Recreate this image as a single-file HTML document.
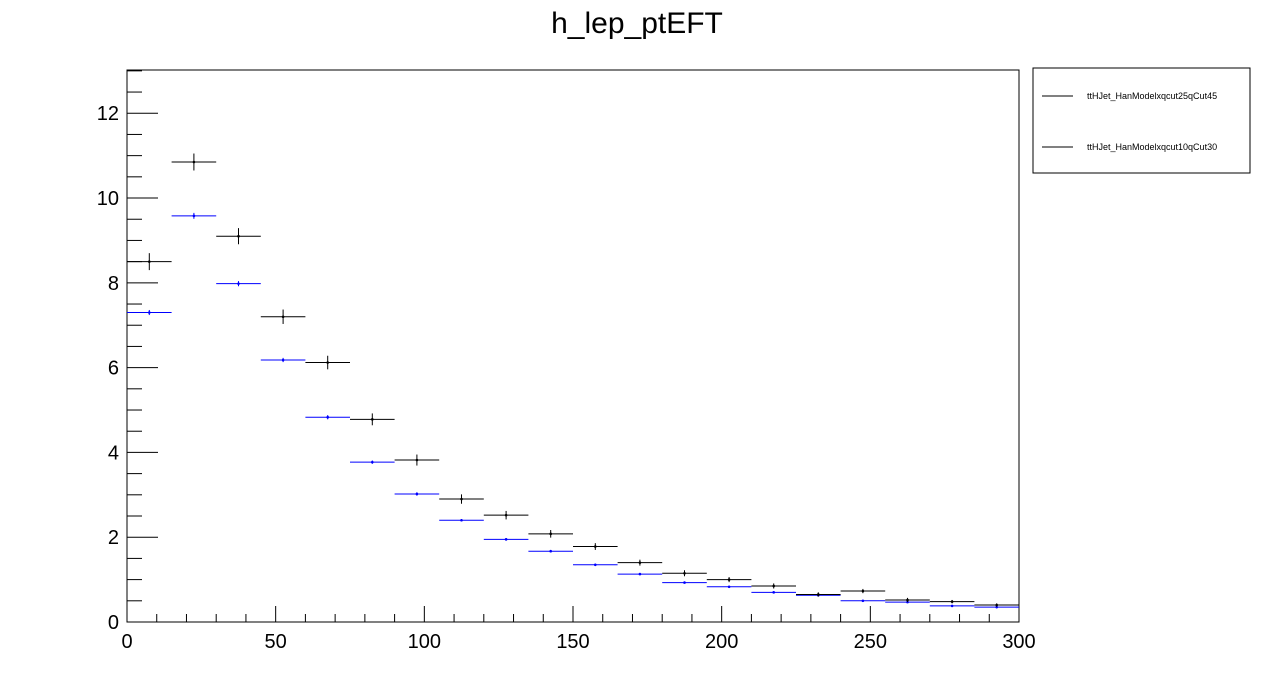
<!DOCTYPE html>
<html><head><meta charset="utf-8"><style>
body{margin:0;background:#fff;font-family:"Liberation Sans",sans-serif}
</style></head><body>
<svg id="chart" width="1276" height="692" xmlns="http://www.w3.org/2000/svg" font-family="Liberation Sans, sans-serif">
<rect width="1276" height="692" fill="#fff"/>
<text x="637" y="33" font-size="30" text-anchor="middle">h_lep_ptEFT</text>
<rect x="127" y="70" width="892" height="552" fill="none" stroke="#000" stroke-width="1"/>
<g id="axes"></g>
<g id="marks"></g>
<g>
<rect x="1033" y="68" width="217" height="105" fill="#fff" stroke="#000"/>
<line x1="1042" y1="96" x2="1073" y2="96" stroke="#000"/>
<text x="1087" y="99" font-size="9">ttHJet_HanModelxqcut25qCut45</text>
<line x1="1042" y1="147" x2="1073" y2="147" stroke="#000"/>
<text x="1087" y="150" font-size="9">ttHJet_HanModelxqcut10qCut30</text>
</g>
</svg>
<script>
const binEdges=[0,15,30,45,60,75,90,105,120,135,150,165,180,195,210,225,240,255,270,285,300];
const blackValues=[8.5,10.85,9.1,7.2,6.12,4.78,3.82,2.9,2.52,2.08,1.78,1.4,1.15,1.0,0.85,0.65,0.73,0.52,0.48,0.4];
const blackErrors=[0.2,0.2,0.19,0.17,0.16,0.14,0.13,0.11,0.1,0.09,0.08,0.07,0.07,0.06,0.06,0.05,0.05,0.05,0.04,0.04];
const blueValues=[7.3,9.58,7.98,6.18,4.83,3.77,3.02,2.4,1.95,1.67,1.35,1.13,0.93,0.83,0.7,0.63,0.5,0.47,0.38,0.35];
const blueErrors=[0.06,0.07,0.06,0.05,0.05,0.04,0.04,0.03,0.03,0.03,0.03,0.02,0.02,0.02,0.02,0.02,0.02,0.02,0.02,0.02];
const xTickLabels=[0,50,100,150,200,250,300];
const yTickLabels=[0,2,4,6,8,10,12];
const X0=127,X1=1019,Y0=622,Y1=70,XMAX=300,YMAX=13.02;
const xs=v=>X0+(X1-X0)*v/XMAX, ys=v=>Y0-(Y0-Y1)*v/YMAX;
const NS="http://www.w3.org/2000/svg";
function mk(parent,tag,attrs){const e=document.createElementNS(NS,tag);for(const k in attrs)e.setAttribute(k,attrs[k]);parent.appendChild(e);return e;}
const axes=document.getElementById('axes'), marks=document.getElementById('marks');
for(let v=0;v<=XMAX;v+=10){const major=v%50===0;
 const t=mk(axes,'line',{x1:xs(v),x2:xs(v),y1:Y0,y2:Y0-(major?16:8),stroke:'#000'});
 
 }
xTickLabels.forEach(v=>{const t=mk(axes,'text',{x:xs(v),y:Y0+26,'font-size':20,'text-anchor':'middle'});t.textContent=v;
 
 });
for(let v=0;v<=13;v+=0.5){const major=v%2===0;
 const t=mk(axes,'line',{x1:X0,x2:X0+(major?31:15),y1:ys(v),y2:ys(v),stroke:'#000'});
 
 }
yTickLabels.forEach(v=>{const t=mk(axes,'text',{x:X0-8,y:ys(v)+7,'font-size':20,'text-anchor':'end'});t.textContent=v;
 
 });
function series(vals,errs,color,name){
 vals.forEach((v,i)=>{const a=binEdges[i],b=binEdges[i+1],c=(a+b)/2;
  const g=mk(marks,'g',{stroke:color});
  
  
  mk(g,'line',{x1:xs(a),x2:xs(b),y1:ys(v),y2:ys(v)});
  mk(g,'line',{x1:xs(c),x2:xs(c),y1:ys(v+errs[i]),y2:ys(v-errs[i])});
  mk(g,'circle',{cx:xs(c),cy:ys(v),r:1.3,fill:color,stroke:'none'});
 });}
series(blueValues,blueErrors,'#0000ff','blue-series');
series(blackValues,blackErrors,'#000','black-series');
</script>
</body></html>
